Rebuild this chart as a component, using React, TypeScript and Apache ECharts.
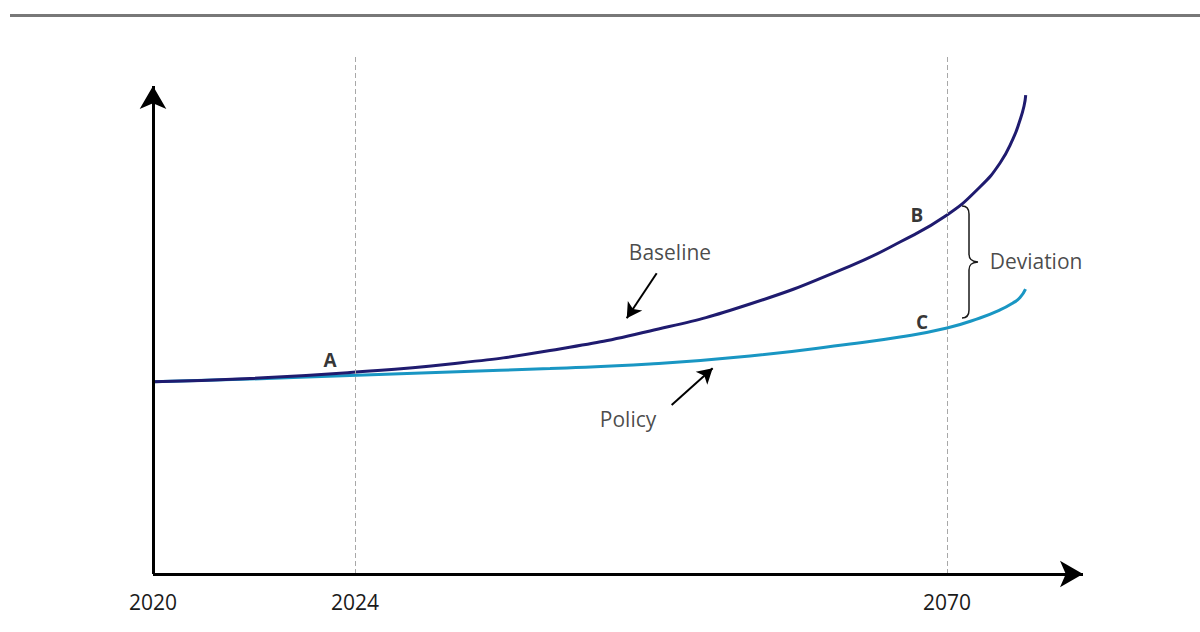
import React, { useEffect, useRef } from "react";
import * as echarts from "echarts";

// ---- data (schematic units: x 0..100 along the time axis, y 0..100 up the value axis)
const yearLabels = ["2020", "2024", "2070"];
const yearPositions = [0, 21.72, 85.38];
const dashedYears = [21.72, 85.38];

const baselineX = [0, 10.43, 21.18, 31.94, 42.69, 53.44, 64.19, 74.95, 80.32, 85.38, 88.92, 91.08, 92.47, 93.23, 93.66, 93.84];
const baselineY = [37.05, 37.67, 38.82, 40.46, 43.06, 46.82, 52.02, 59.34, 63.97, 69.17, 74.57, 79.19, 83.82, 87.48, 90.17, 92.29];

const policyX = [0, 10.43, 21.18, 31.94, 42.69, 53.44, 64.19, 74.95, 80.32, 85.38, 88.92, 91.08, 92.47, 93.23, 93.82];
const policyY = [37.05, 37.57, 38.25, 38.92, 39.6, 40.46, 42.0, 44.32, 45.66, 47.4, 49.33, 50.87, 52.22, 53.28, 54.91];

const pointNames = ["A", "B", "C"];
const pointX = [19.03, 82.15, 82.69];
const pointY = [41.23, 69.17, 48.55];

const noteNames = ["Baseline", "Policy", "Deviation"];
const noteX = [55.59, 51.08, 94.95];
const noteY = [62.04, 29.87, 60.31];

const arrowFrom = [[54.16, 57.94], [55.77, 32.56]];
const arrowTo = [[50.94, 49.27], [60.18, 39.63]];

const braceX = 86.99;
const braceTop = 70.91;
const braceBottom = 49.33;

const axisEndX = 100;
const axisEndY = 94.03;

const FONT = "'Open Sans', sans-serif";

export default function App() {
  const ref = useRef<HTMLDivElement>(null);

  useEffect(() => {
    if (!ref.current) return;
    const chart = echarts.init(ref.current, undefined, { renderer: "svg" });

    const zip = (xs: number[], ys: number[]) => xs.map((x, i) => [x, ys[i]]);

    const option: any = {
      animation: false,
      backgroundColor: "#ffffff",
      grid: { left: 153, right: 117, top: 55, bottom: 58 },
      xAxis: {
        type: "value",
        min: 0,
        max: 100,
        splitLine: { show: false },
        axisLine: { show: false },
        axisTick: { show: false },
        axisLabel: {
          show: true,
          customValues: yearPositions,
          formatter: (v: number) => {
            const i = yearPositions.findIndex((p) => Math.abs(p - v) < 0.01);
            return i >= 0 ? yearLabels[i] : "";
          },
          margin: 17,
          fontSize: 21,
          color: "#1a1a1a",
          fontFamily: FONT,
        },
      },
      yAxis: {
        type: "value",
        min: 0,
        max: 100,
        splitLine: { show: false },
        axisLine: { show: false },
        axisTick: { show: false },
        axisLabel: { show: false },
      },
      graphic: [
        {
          type: "rect",
          left: 10,
          top: 14,
          shape: { width: 1190, height: 3 },
          style: { fill: "#787878" },
          silent: true,
        },
      ],
      series: [
        {
          name: "guides",
          type: "line",
          data: [[0, 0]],
          showSymbol: false,
          lineStyle: { opacity: 0 },
          z: 1,
          markLine: {
            silent: true,
            symbol: "none",
            label: { show: false },
            lineStyle: { color: "#a8a8a8", width: 1, type: [5, 3] },
            data: dashedYears.map((x) => ({ xAxis: x })),
          },
        },
        {
          name: "Policy",
          type: "line",
          data: zip(policyX, policyY),
          smooth: 0.5,
          showSymbol: false,
          lineStyle: { color: "#1996c3", width: 3 },
          z: 3,
        },
        {
          name: "Baseline",
          type: "line",
          data: zip(baselineX, baselineY),
          smooth: 0.5,
          showSymbol: false,
          lineStyle: { color: "#1f1b6f", width: 3 },
          z: 4,
        },
        {
          name: "axes",
          type: "line",
          data: [[0, 0]],
          showSymbol: false,
          lineStyle: { opacity: 0 },
          z: 6,
          markLine: {
            silent: true,
            label: { show: false },
            symbol: ["none", "arrow"],
            symbolSize: [20, 23],
            lineStyle: { color: "#000000", width: 3, type: "solid" },
            data: [
              [{ coord: [0, 0] }, { coord: [axisEndX, 0] }],
              [{ coord: [0, 0] }, { coord: [0, axisEndY] }],
            ],
          },
        },
        {
          name: "pointers",
          type: "line",
          data: [[0, 0]],
          showSymbol: false,
          lineStyle: { opacity: 0 },
          z: 6,
          markLine: {
            silent: true,
            label: { show: false },
            symbol: ["none", "arrow"],
            symbolSize: [13, 15],
            lineStyle: { color: "#000000", width: 2, type: "solid" },
            data: arrowFrom.map((f, i) => [{ coord: f }, { coord: arrowTo[i] }]),
          },
        },
        {
          name: "points",
          type: "scatter",
          symbolSize: 0,
          z: 7,
          data: pointNames.map((n, i) => ({ name: n, value: [pointX[i], pointY[i]] })),
          label: {
            show: true,
            position: "inside",
            formatter: "{b}",
            fontSize: 19,
            fontWeight: "bold",
            color: "#000000",
            fontFamily: FONT,
          },
        },
        {
          name: "notes",
          type: "scatter",
          symbolSize: 0,
          z: 7,
          data: noteNames.map((n, i) => ({ name: n, value: [noteX[i], noteY[i]] })),
          label: {
            show: true,
            position: "inside",
            formatter: "{b}",
            fontSize: 21,
            color: "#1a1a1a",
            fontFamily: FONT,
          },
        },
        {
          name: "brace",
          type: "custom",
          z: 6,
          data: [[braceX, braceTop, braceBottom]],
          renderItem: (params: any, api: any) => {
            const top = api.coord([api.value(0), api.value(1)]);
            const bot = api.coord([api.value(0), api.value(2)]);
            const x = top[0];
            const y0 = top[1];
            const y1 = bot[1];
            const mid = (y0 + y1) / 2;
            const d =
              `M${x},${y0} C${x + 4},${y0} ${x + 7},${y0 + 2} ${x + 7},${y0 + 8} ` +
              `L${x + 7},${mid - 8} C${x + 7},${mid - 3} ${x + 9},${mid - 0.5} ${x + 16},${mid} ` +
              `C${x + 9},${mid + 0.5} ${x + 7},${mid + 3} ${x + 7},${mid + 8} ` +
              `L${x + 7},${y1 - 8} C${x + 7},${y1 - 2} ${x + 4},${y1} ${x},${y1}`;
            return {
              type: "path",
              shape: { pathData: d },
              style: { fill: "none", stroke: "#1a1a1a", lineWidth: 1.5 },
            };
          },
        },
      ],
    };

    chart.setOption(option);
    return () => chart.dispose();
  }, []);

  return (
    <div
      ref={ref}
      style={{ position: "fixed", left: 0, top: 0, width: 1200, height: 632, background: "#fff" }}
    />
  );
}
